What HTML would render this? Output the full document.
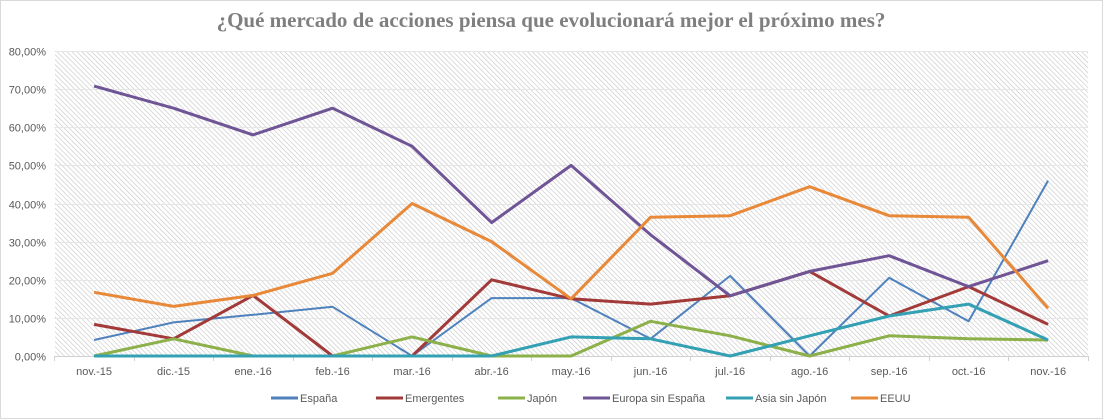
<!DOCTYPE html>
<html><head><meta charset="utf-8"><style>
html,body{margin:0;padding:0;background:#fff;}
svg{display:block;font-family:"Liberation Sans",sans-serif;}
</style></head><body>
<svg id="chart" width="1103" height="419">
<defs>
<pattern id="hatch" width="3.5" height="3.5" patternUnits="userSpaceOnUse" patternTransform="rotate(-45)">
<rect width="3.5" height="3.5" fill="#ffffff"/>
<line x1="0" y1="0" x2="0" y2="3.5" stroke="#c4c4c4" stroke-width="1.2"/>
</pattern>
</defs>
<rect x="0.5" y="0.5" width="1102" height="418" fill="#fff" stroke="#d9d9d9"/>
<text x="551" y="27" text-anchor="middle" font-family="Liberation Serif,serif" font-weight="bold" font-size="21" fill="#7f7f7f">¿Qué mercado de acciones piensa que evolucionará mejor el próximo mes?</text>
<rect x="55" y="51" width="1033" height="305" fill="url(#hatch)"/>
<g id="grid"></g><g id="series"></g><g id="legend"></g>
</svg>
<script>
const categories=["nov.-15","dic.-15","ene.-16","feb.-16","mar.-16","abr.-16","may.-16","jun.-16","jul.-16","ago.-16","sep.-16","oct.-16","nov.-16"];
const yTicks=[0,10,20,30,40,50,60,70,80];
const seriesNames=["España","Emergentes","Japón","Europa sin España","Asia sin Japón","EEUU"];
const seriesColors=["#4f81bd","#a33a3a","#8cb04a","#6f5496","#33a0b4","#e8893a"];
const seriesWidths=[2,3,3,3,3,3];
const espana=[4.2,8.8,10.8,12.9,0,15.2,15.2,4.5,21,0,20.5,9.1,46];
const emergentes=[8.3,4.5,15.9,0,0,20,15,13.6,15.8,22.2,10.5,18.2,8.3];
const japon=[0,4.5,0,0,5,0,0,9.1,5.3,0,5.3,4.5,4.2];
const europa=[70.8,65,58,65,55,35,50,31.8,15.8,22.2,26.3,18.2,25];
const asia=[0,0,0,0,0,0,5,4.5,0,5.3,10.5,13.6,4.2];
const eeuu=[16.7,13,15.9,21.7,40,30,15,36.4,36.8,44.4,36.8,36.4,12.5];
const allSeries=[espana,emergentes,japon,europa,asia,eeuu];
const NS="http://www.w3.org/2000/svg";
const L=54.3,R=1087.9,T=51,B=356;
const band=(R-L)/categories.length;
const xs=i=>L+band*(i+0.5);
const ys=v=>B-(v/80)*(B-T);
function mk(tag,at,parent){const e=document.createElementNS(NS,tag);for(const k in at)e.setAttribute(k,at[k]);parent.appendChild(e);return e;}
const grid=document.getElementById('grid');
yTicks.forEach(t=>{
  const y=Math.round(ys(t))+0.5;
  const gl=mk('line',{x1:L,x2:R,y1:y,y2:y,stroke:t===0?'#d0d0d0':'#e6e6e6','stroke-width':1},grid);
  
  
  const tx=mk('text',{x:46,y:y+4,'text-anchor':'end','font-size':11,fill:'#595959'},grid);
  tx.textContent=t.toFixed(2).replace('.',',')+'%';
  
  
});
for(let i=0;i<=categories.length;i++){
  const x=Math.round(L+band*i)+0.5;
  const tk=mk('line',{x1:x,x2:x,y1:B,y2:B+5,stroke:'#d0d0d0'},grid);
  
  
}
categories.forEach((c,i)=>{
  const tx=mk('text',{x:xs(i),y:375,'text-anchor':'middle','font-size':11,fill:'#595959'},grid);
  tx.textContent=c;
  
  
});
const sg=document.getElementById('series');
allSeries.forEach((d,s)=>{
  const p=mk('polyline',{points:d.map((v,i)=>xs(i).toFixed(1)+','+ys(v).toFixed(1)).join(' '),fill:'none',stroke:seriesColors[s],'stroke-width':seriesWidths[s],'stroke-linejoin':'round'},sg);
  
  
});
const lg=document.getElementById('legend');
const lx=[271,376,498,583,726,851];
seriesNames.forEach((n,s)=>{
  const g=mk('g',{},lg);
  
  
  mk('line',{x1:lx[s],x2:lx[s]+27,y1:398,y2:398,stroke:seriesColors[s],'stroke-width':3},g);
  const t=mk('text',{x:lx[s]+29,y:402,'font-size':11,fill:'#595959'},g);
  t.textContent=n;
});
</script>
</body></html>
